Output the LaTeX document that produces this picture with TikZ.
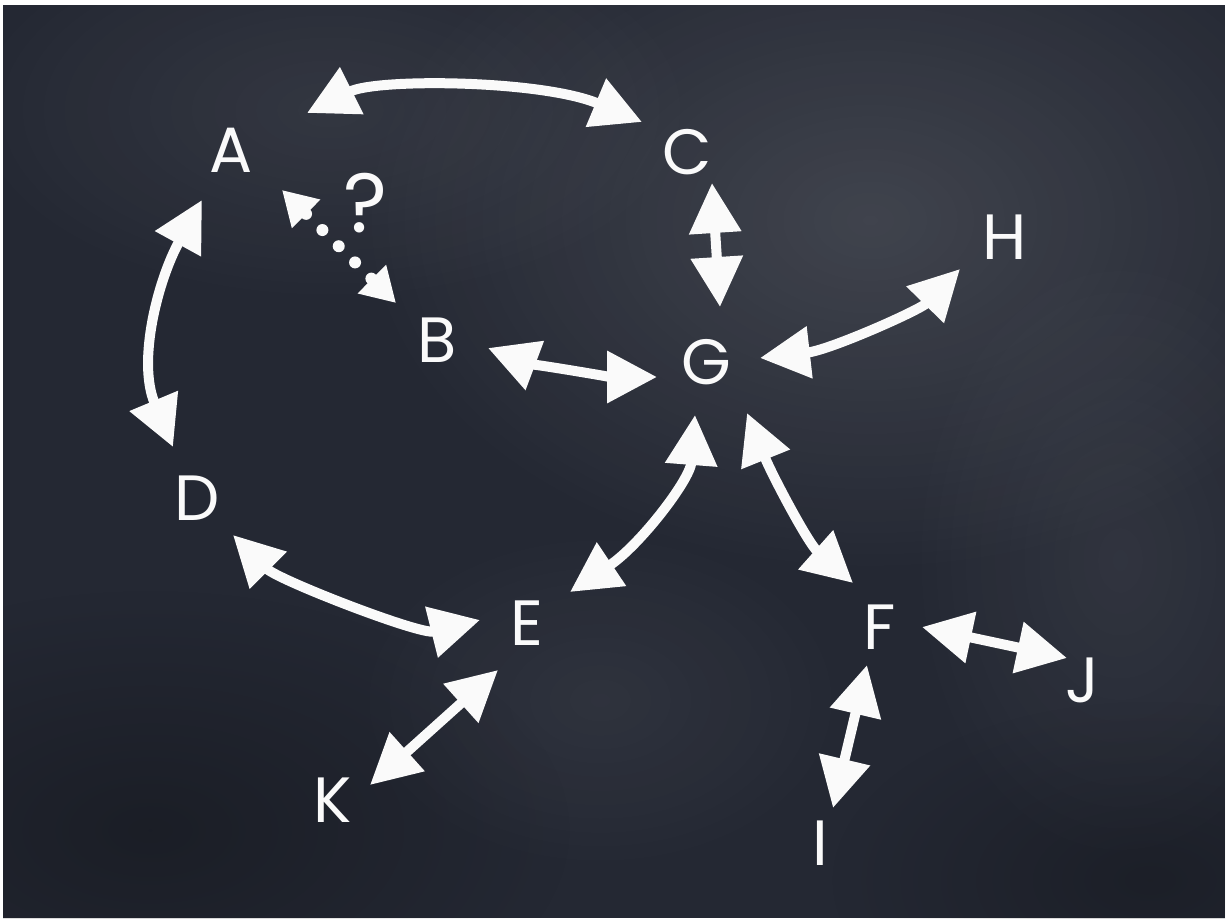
\documentclass[tikz,border=0pt]{standalone}
\usepackage{fontspec}
\setmainfont{Poppins}
\usetikzlibrary{arrows.meta,calc,fadings}
\definecolor{board}{RGB}{36,40,51}
\definecolor{chalk}{RGB}{250,250,250}
\tikzfading[name=softblob, inner color=transparent!0, outer color=transparent!100]
\begin{document}
\begin{tikzpicture}[x=1pt,y=-1pt,
  lbl/.style={text=chalk, font=\fontsize{64}{64}\selectfont, inner sep=0pt},
  qmark/.style={text=chalk, font=\fontsize{84}{84}\selectfont, inner sep=0pt},
  link/.style={draw=chalk, line width=10pt,
    {Triangle[length=50pt,width=50pt]}-{Triangle[length=50pt,width=50pt]}},
  dotlink/.style={draw=chalk, line width=12pt, line cap=round,
    dash pattern=on 0pt off 23pt, dash phase=21pt,
    {Triangle[length=34pt,width=38pt]}-{Triangle[length=34pt,width=38pt]}},
  glow/.style={fill=white, path fading=softblob},
  shadow/.style={fill=black, path fading=softblob}]
\useasboundingbox (0,0) rectangle (1231,923);
% board with white frame
\fill[white] (0,0) rectangle (1231,923);
\fill[board] (3,5) rectangle (1225,918);
\begin{scope}
\clip (3,5) rectangle (1225,918);
\fill[glow, opacity=0.13] (870,220) ellipse (520 and 360);
\fill[glow, opacity=0.07] (330,110) ellipse (380 and 200);
\fill[glow, opacity=0.06] (1120,560) ellipse (220 and 320);
\fill[glow, opacity=0.05] (600,700) ellipse (260 and 180);
\fill[shadow, opacity=0.25] (150,830) ellipse (420 and 240);
\fill[shadow, opacity=0.22] (1150,880) ellipse (320 and 180);
\end{scope}
% letters
\node[lbl] (A) at (231,150) {A};
\node[lbl] (C) at (687,152) {C};
\node[lbl] (H) at (1005,237) {H};
\node[lbl] (B) at (437,340) {B};
\node[lbl] (G) at (706,362) {G};
\node[lbl] (D) at (197,498) {D};
\node[lbl] (E) at (527,623) {E};
\node[lbl] (F) at (880,627) {F};
\node[lbl] (J) at (1082,680) {J};
\node[lbl] (K) at (333,800) {K};
\node[lbl] (I) at (820,843) {I};
\node[qmark] (Q) at (366,203) {?};
% connectors
\draw[link] ($(A)+(76,-37)$) .. controls +(70,-35) and +(-100,-42) .. ($(C)+(-45,-30)$);
\draw[link] ($(A)+(-29,50)$) .. controls +(-44,80) and +(-36,-86) .. ($(D)+(-24,-51)$);
\draw[dotlink] ($(A)+(51,40)$) -- ($(B)+(-41,-37)$);
\draw[link] ($(B)+(51,8)$) .. controls +(40,15) and +(-45,0) .. ($(G)+(-49,15)$);
\draw[link] ($(C)+(25,31)$) -- ($(G)+(14,-55)$);
\draw[link] ($(G)+(54,-4)$) .. controls +(70,-8) and +(-40,41) .. ($(H)+(-45,32)$);
\draw[link] ($(G)+(-11,53)$) .. controls +(-5,65) and +(70,-47) .. ($(E)+(43,-31)$);
\draw[link] ($(G)+(41,51)$) .. controls +(25,62) and +(-45,-40) .. ($(F)+(-27,-44)$);
\draw[link] ($(D)+(36,37)$) .. controls +(45,45) and +(-60,15) .. ($(E)+(-47,-3)$);
\draw[link] ($(E)+(-29,47)$) -- ($(K)+(37,-15)$);
\draw[link] ($(F)+(42,0)$) -- ($(J)+(-15,-22)$);
\draw[link] ($(F)+(-13,38)$) -- ($(I)+(13,-35)$);
\end{tikzpicture}
\end{document}
